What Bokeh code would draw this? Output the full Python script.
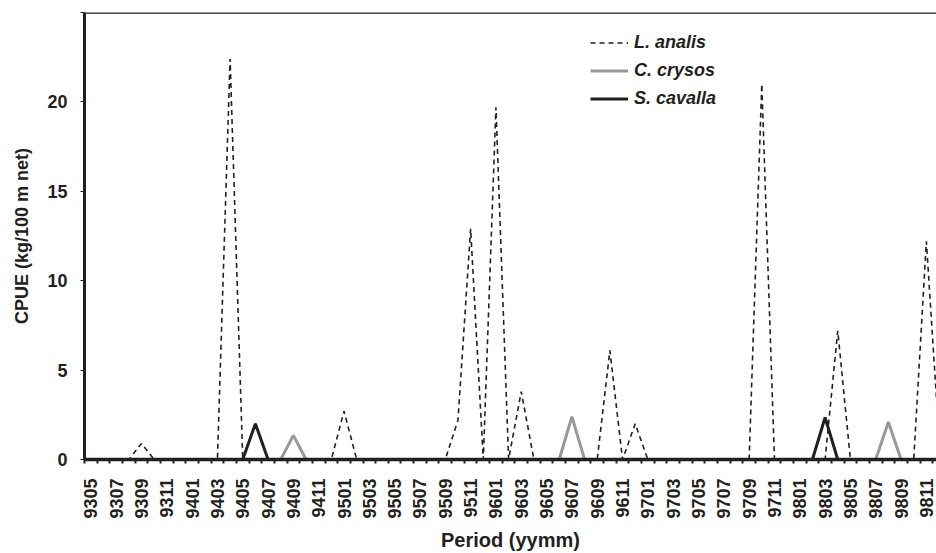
import numpy as np
from bokeh.plotting import figure
from bokeh.models import Range1d, FixedTicker, Span
from bokeh.embed import file_html
from bokeh.resources import INLINE

periods = ["9305", "9306", "9307", "9308", "9309", "9310", "9311", "9312",
           "9401", "9402", "9403", "9404", "9405", "9406", "9407", "9408", "9409", "9410", "9411", "9412",
           "9501", "9502", "9503", "9504", "9505", "9506", "9507", "9508", "9509", "9510", "9511", "9512",
           "9601", "9602", "9603", "9604", "9605", "9606", "9607", "9608", "9609", "9610", "9611", "9612",
           "9701", "9702", "9703", "9704", "9705", "9706", "9707", "9708", "9709", "9710", "9711", "9712",
           "9801", "9802", "9803", "9804", "9805", "9806", "9807", "9808", "9809", "9810", "9811", "9812"]

l_analis = [0, 0, 0, 0, 0.9, 0, 0, 0,
            0, 0, 0, 22.4, 0, 0, 0, 0, 0, 0, 0, 0,
            2.7, 0, 0, 0, 0, 0, 0, 0, 0, 2.2, 12.9, 0,
            19.7, 0, 3.8, 0, 0, 0, 0, 0, 0, 6.1, 0, 2.0,
            0, 0, 0, 0, 0, 0, 0, 0, 0, 21.0, 0, 0,
            0, 0, 0, 7.2, 0, 0, 0, 0, 0, 0, 12.2, 1.2]

c_crysos = [0, 0, 0, 0, 0, 0, 0, 0,
            0, 0, 0, 0, 0, 0, 0, 0, 1.35, 0, 0, 0,
            0, 0, 0, 0, 0, 0, 0, 0, 0, 0, 0, 0,
            0, 0, 0, 0, 0, 0, 2.4, 0, 0, 0, 0, 0,
            0, 0, 0, 0, 0, 0, 0, 0, 0, 0, 0, 0,
            0, 0, 0, 0, 0, 0, 0, 2.1, 0, 0, 0, 0]

s_cavalla = [0, 0, 0, 0, 0, 0, 0, 0,
             0, 0, 0, 0, 0, 2.0, 0, 0, 0, 0, 0, 0,
             0, 0, 0, 0, 0, 0, 0, 0, 0, 0, 0, 0,
             0, 0, 0, 0, 0, 0, 0, 0, 0, 0, 0, 0,
             0, 0, 0, 0, 0, 0, 0, 0, 0, 0, 0, 0,
             0, 0, 2.35, 0, 0, 0, 0, 0, 0, 0, 0, 0]

y_ticks = [0, 5, 10, 15, 20, 25]

TXT = "#231f20"
FONT = "Liberation Sans"

x = np.arange(len(periods))

p = figure(width=936, height=553, output_backend="svg", toolbar_location=None,
           x_range=Range1d(-0.5, 66.8), y_range=Range1d(0, 25),
           min_border_left=84, min_border_top=12, min_border_right=0, min_border_bottom=0)
p.outline_line_color = None
p.grid.visible = False
p.background_fill_color = "white"

r1 = p.line(x, l_analis, line_color=TXT, line_width=1.6, line_dash="5 4", legend_label="L. analis")
r2 = p.line(x, c_crysos, line_color="#999999", line_width=3, legend_label="C. crysos")
r3 = p.line(x, s_cavalla, line_color=TXT, line_width=3, legend_label="S. cavalla")

# top border
p.add_layout(Span(location=25, dimension="width", line_color=TXT, line_width=2.5))

# x axis
xa = p.xaxis[0]
xa.ticker = FixedTicker(ticks=[int(i) for i in x[::2]],
                        minor_ticks=[i - 0.5 for i in range(len(periods) + 1)])
xa.major_label_overrides = {int(i): periods[i] for i in x[::2]}
xa.major_label_orientation = np.pi / 2
xa.major_tick_out = 0
xa.major_tick_in = 0
xa.minor_tick_out = 4
xa.minor_tick_in = 0
xa.minor_tick_line_width = 2
xa.minor_tick_line_color = TXT
xa.axis_line_width = 3.5
xa.axis_line_color = TXT
xa.major_label_standoff = 15
xa.major_label_text_font = FONT
xa.major_label_text_font_style = "bold"
xa.major_label_text_font_size = "18px"
xa.major_label_text_color = TXT
xa.axis_label = "Period (yymm)"
xa.axis_label_text_font = FONT
xa.axis_label_text_font_style = "bold"
xa.axis_label_text_font_size = "20px"
xa.axis_label_text_color = TXT
xa.axis_label_standoff = 7

# y axis
ya = p.yaxis[0]
ya.ticker = FixedTicker(ticks=y_ticks)
ya.major_label_overrides = {25: ""}
ya.major_tick_out = 4
ya.major_tick_in = 0
ya.major_tick_line_width = 1.2
ya.major_tick_line_color = TXT
ya.minor_tick_out = 0
ya.minor_tick_in = 0
ya.axis_line_width = 3
ya.axis_line_color = TXT
ya.major_label_standoff = 13
ya.major_label_text_font = FONT
ya.major_label_text_font_style = "bold"
ya.major_label_text_font_size = "18px"
ya.major_label_text_color = TXT
ya.axis_label = "CPUE (kg/100 m net)"
ya.axis_label_text_font = FONT
ya.axis_label_text_font_style = "bold"
ya.axis_label_text_font_size = "18px"
ya.axis_label_text_color = TXT
ya.axis_label_standoff = 12

# legend
lg = p.legend[0]
lg.location = (506, 350)
lg.padding = 0
lg.margin = 0
lg.border_line_color = None
lg.background_fill_alpha = 0
lg.glyph_width = 38
lg.glyph_height = 21
lg.label_height = 21
lg.spacing = 7
lg.label_standoff = 6
lg.label_text_font = FONT
lg.label_text_font_style = "bold italic"
lg.label_text_font_size = "18px"
lg.label_text_color = TXT

open("out.html", "w").write(file_html(p, INLINE))
